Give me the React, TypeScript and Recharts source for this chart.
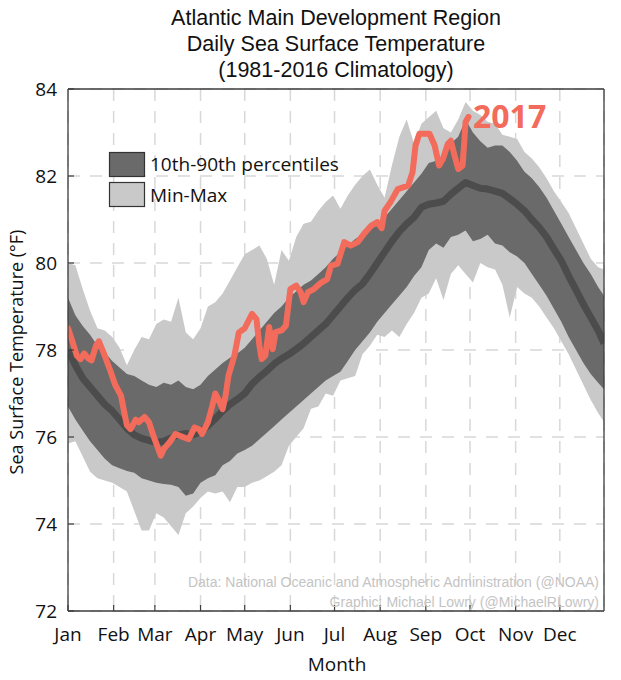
import React from 'react';
import { ComposedChart, Area, Line, XAxis, YAxis, CartesianGrid } from 'recharts';

// Day of year (1-based) for climatology samples
const climDays = [
  1, 6, 11, 16, 21, 26, 31, 36, 41, 46, 51, 56, 61, 66, 71, 76, 81, 86, 91, 96,
  101, 106, 111, 116, 121, 126, 131, 136, 141, 146, 151, 156, 161, 166, 171, 176, 181, 186, 191, 196,
  201, 206, 211, 216, 221, 226, 231, 236, 241, 246, 251, 256, 261, 266, 271, 276, 281, 286, 291, 296,
  301, 306, 311, 316, 321, 326, 331, 336, 341, 346, 351, 356, 361, 365,
];
const climMean = [
  78.0, 77.65, 77.35, 77.15, 76.95, 76.75, 76.6, 76.4, 76.2, 76.05, 75.97, 75.92, 75.88, 75.9, 75.98, 76.05, 76.08, 76.05, 76.12, 76.26,
  76.42, 76.6, 76.75, 76.87, 77.0, 77.22, 77.38, 77.52, 77.68, 77.8, 77.9, 78.02, 78.15, 78.3, 78.45, 78.6, 78.8, 79.0, 79.2, 79.38,
  79.52, 79.75, 80.0, 80.25, 80.5, 80.72, 80.9, 81.05, 81.28, 81.35, 81.38, 81.42, 81.58, 81.72, 81.85, 81.78, 81.72, 81.7, 81.65, 81.6,
  81.48, 81.35, 81.2, 81.0, 80.82, 80.6, 80.32, 80.05, 79.7, 79.38, 79.05, 78.75, 78.45, 78.15,
];
const climP90 = [
  79.2, 78.8, 78.55, 78.35, 78.1, 77.95, 77.75, 77.6, 77.45, 77.4, 77.3, 77.2, 77.15, 77.25, 77.2, 77.3, 77.15, 77.1, 77.2, 77.4,
  77.55, 77.7, 77.82, 77.92, 78.05, 78.25, 78.45, 78.65, 78.85, 79.0, 79.2, 79.35, 79.5, 79.6, 79.75, 79.9, 80.1, 80.25, 80.4, 80.55,
  80.65, 80.8, 80.9, 81.05, 81.25, 81.45, 81.65, 81.85, 82.05, 82.3, 82.35, 82.4, 82.75, 82.9, 83.3, 83.0, 82.8, 82.65, 82.7, 82.7,
  82.55, 82.35, 82.1, 81.95, 81.75, 81.5, 81.2, 80.9, 80.6, 80.3, 80.0, 79.75, 79.45, 79.25,
];
const climP10 = [
  76.7, 76.4, 76.15, 75.9, 75.7, 75.5, 75.35, 75.28, 75.22, 75.18, 75.05, 75.0, 74.95, 74.92, 74.9, 74.85, 74.65, 74.7, 74.95, 75.05,
  75.12, 75.35, 75.45, 75.62, 75.7, 75.8, 75.95, 76.1, 76.25, 76.4, 76.55, 76.7, 76.85, 77.0, 77.15, 77.3, 77.4, 77.5, 77.75, 78.0,
  78.2, 78.4, 78.65, 78.85, 79.05, 79.25, 79.45, 79.7, 79.9, 80.3, 80.45, 80.35, 80.6, 80.65, 80.75, 80.5, 80.55, 80.65, 80.45, 80.4,
  80.25, 80.15, 80.0, 79.75, 79.5, 79.25, 78.95, 78.65, 78.3, 78.0, 77.7, 77.45, 77.25, 77.1,
];
const climMin = [
  75.85, 75.9, 75.55, 75.2, 75.05, 75.0, 74.95, 74.85, 74.75, 74.3, 73.85, 73.85, 74.25, 74.15, 73.95, 73.75, 74.25, 74.4, 74.6, 74.75,
  74.7, 74.75, 74.5, 74.85, 74.85, 74.95, 75.0, 75.1, 75.2, 75.35, 75.8, 76.0, 76.2, 76.65, 76.7, 77.0, 76.95, 77.3, 77.35, 77.4,
  77.9, 78.1, 78.35, 78.3, 78.45, 78.3, 78.6, 78.85, 79.2, 79.3, 79.65, 79.15, 79.75, 79.95, 79.75, 79.55, 80.0, 79.9, 79.85, 79.5,
  78.75, 79.45, 79.3, 79.2, 79.0, 78.75, 78.5, 78.2, 77.9, 77.55, 77.2, 76.85, 76.55, 76.35,
];
const climMax = [
  80.0, 79.95, 79.4, 78.9, 78.5, 78.45, 78.3, 78.05, 77.65, 78.0, 78.3, 78.25, 78.6, 78.7, 78.65, 79.2, 78.4, 78.25, 78.5, 79.0,
  79.1, 79.3, 79.6, 79.9, 80.2, 80.3, 80.4, 80.1, 79.5, 80.3, 80.05, 80.6, 80.9, 80.95, 81.2, 81.4, 81.55, 81.25, 81.55, 81.8,
  82.0, 82.15, 81.8, 81.5, 82.25, 82.9, 83.3, 82.75, 83.2, 83.35, 83.5, 83.1, 83.0, 83.3, 83.7, 83.5, 83.4, 83.25, 83.2, 82.95,
  82.9, 82.85, 82.55, 82.4, 82.2, 81.95, 81.65, 81.4, 81.15, 80.8, 80.45, 80.1, 79.9, 79.85,
];

// 2017 daily SST (sampled where the line changes)
const days2017 = [
  1, 3, 7, 9.5, 12, 15, 17, 20, 22, 25, 30, 33, 37, 39, 41, 43.5, 47, 49, 53, 56,
  59, 64, 66, 70, 74, 79, 83, 87, 90, 92, 96, 99, 101, 103, 106, 108, 110, 114, 117, 121,
  124, 126, 129, 131, 132.5, 135, 137.6, 140, 142, 146, 149, 152, 156, 159, 161, 164, 168, 173, 177, 179.6,
  184, 188.6, 193, 197.7, 202, 207, 211, 214, 216, 220, 225, 232, 235, 237, 239.6, 243, 246.5, 250, 253, 255.6,
  259, 261, 263.5, 266, 269, 271, 273,
];
const sst2017 = [
  78.5, 78.3, 77.87, 77.79, 77.92, 77.8, 77.76, 78.1, 78.2, 77.95, 77.5, 77.2, 76.95, 76.6, 76.27, 76.18, 76.4, 76.34, 76.46, 76.34,
  76.03, 75.57, 75.72, 75.88, 76.07, 76.0, 75.95, 76.22, 76.18, 76.07, 76.34, 76.72, 77.0, 76.87, 76.64, 76.95, 77.41, 77.87, 78.4, 78.5,
  78.7, 78.83, 78.71, 78.1, 77.79, 77.87, 78.53, 78.02, 78.41, 78.45, 78.56, 79.4, 79.48, 79.33, 79.1, 79.33, 79.4, 79.55, 79.63, 79.94,
  79.98, 80.48, 80.4, 80.48, 80.67, 80.86, 80.94, 80.8, 81.2, 81.4, 81.7, 81.78, 82.09, 82.7, 82.97, 82.97, 82.97, 82.7, 82.24, 82.39,
  82.74, 82.81, 82.47, 82.16, 82.24, 83.24, 83.36,
];

const monthTicks = [1, 32, 60, 91, 121, 152, 182, 213, 244, 274, 305, 335];
const monthLabels = ['Jan', 'Feb', 'Mar', 'Apr', 'May', 'Jun', 'Jul', 'Aug', 'Sep', 'Oct', 'Nov', 'Dec'];
const tempTicks = [72, 74, 76, 78, 80, 82, 84];

const titleLines = ['Atlantic Main Development Region', 'Daily Sea Surface Temperature', '(1981-2016 Climatology)'];
const legendItems = ['10th-90th percentiles', 'Min-Max'];
const creditLines = [
  'Data: National Oceanic and Atmospheric Administration (@NOAA)',
  'Graphic: Michael Lowry (@MichaelRLowry)',
];

const climData = climDays.map((day, i) => ({
  day,
  mean: climMean[i],
  band: [climP10[i], climP90[i]],
  range: [climMin[i], climMax[i]],
}));
const data2017 = days2017.map((day, i) => ({ day, sst: sst2017[i] }));

const FRAME = '#3c3c3c';
const LIGHT = '#c9c9c9';
const DARK = '#6a6a6a';
const MEAN = '#4c4c4c';
const RED = '#f26b5b';
const SANS = "'Open Sans', 'Noto Sans', sans-serif";
const HELV = "'Liberation Sans', Arial, sans-serif";

export default function App() {
  return (
    <div style={{ position: 'absolute', left: 0, top: 0, width: 621, height: 680, background: '#fff' }}>
      <ComposedChart
        width={621}
        height={680}
        data={climData}
        margin={{ top: 88, right: 16, bottom: 39, left: 0 }}
      >
        <CartesianGrid stroke="#d8d8d8" strokeWidth={1.5} strokeDasharray="12 10" />
        <XAxis
          dataKey="day"
          type="number"
          domain={[1, 365]}
          ticks={monthTicks}
          interval={0}
          tickFormatter={(v: number) => monthLabels[monthTicks.indexOf(v)] ?? ''}
          tick={{ fill: '#111', fontSize: 19, fontFamily: SANS }}
          tickSize={-6}
          tickMargin={23}
          height={30}
          axisLine={{ stroke: FRAME, strokeWidth: 1.3 }}
          tickLine={{ stroke: FRAME, strokeWidth: 1.2 }}
          allowDataOverflow
        />
        <XAxis
          xAxisId="top"
          orientation="top"
          type="number"
          dataKey="day"
          domain={[1, 365]}
          ticks={monthTicks}
          interval={0}
          tick={false}
          tickSize={-6}
          height={1}
          axisLine={{ stroke: FRAME, strokeWidth: 1.3 }}
          tickLine={{ stroke: FRAME, strokeWidth: 1.2 }}
          allowDataOverflow
        />
        <YAxis
          type="number"
          domain={[72, 84]}
          ticks={tempTicks}
          interval={0}
          width={68}
          tick={{ fill: '#111', fontSize: 19, fontFamily: SANS }}
          tickSize={-6}
          tickMargin={17}
          axisLine={{ stroke: FRAME, strokeWidth: 1.3 }}
          tickLine={{ stroke: FRAME, strokeWidth: 1.2 }}
          allowDataOverflow
        />
        <YAxis
          yAxisId="right"
          orientation="right"
          type="number"
          domain={[72, 84]}
          ticks={tempTicks}
          interval={0}
          width={1}
          tick={false}
          tickSize={-6}
          axisLine={{ stroke: FRAME, strokeWidth: 1.3 }}
          tickLine={{ stroke: FRAME, strokeWidth: 1.2 }}
          allowDataOverflow
        />
        <Area
          dataKey="range"
          type="linear"
          fill={LIGHT}
          fillOpacity={1}
          stroke="none"
          isAnimationActive={false}
        />
        <Area
          dataKey="band"
          type="linear"
          fill={DARK}
          fillOpacity={1}
          stroke="none"
          isAnimationActive={false}
        />
        <Line
          dataKey="mean"
          type="linear"
          stroke={MEAN}
          strokeWidth={7}
          dot={false}
          activeDot={false}
          strokeLinejoin="round"
          isAnimationActive={false}
        />
        <Line
          data={data2017}
          dataKey="sst"
          type="linear"
          stroke={RED}
          strokeWidth={6}
          dot={false}
          activeDot={false}
          strokeLinejoin="round"
          strokeLinecap="round"
          isAnimationActive={false}
        />
      </ComposedChart>
      <svg
        width={621}
        height={680}
        style={{ position: 'absolute', left: 0, top: 0, pointerEvents: 'none' }}
      >
        {titleLines.map((t, i) => (
          <text
            key={t}
            x={336}
            y={25 + i * 26}
            textAnchor="middle"
            fontFamily={HELV}
            fontSize={21.5}
            fill="#111"
          >
            {t}
          </text>
        ))}
        <rect x={109.5} y={152.5} width={35} height={24} fill={DARK} stroke="#333" strokeWidth={1.2} />
        <rect x={109.5} y={182.5} width={35} height={24} fill={LIGHT} stroke="#333" strokeWidth={1.2} />
        {legendItems.map((t, i) => (
          <text key={t} x={150} y={171 + i * 31} fontFamily={SANS} fontSize={19} fill="#111">
            {t}
          </text>
        ))}
        <text x={473} y={128} fontFamily={SANS} fontWeight={700} fontSize={32} fill={RED}>
          2017
        </text>
        {creditLines.map((t, i) => (
          <text
            key={t}
            x={599}
            y={587 + i * 20}
            textAnchor="end"
            fontFamily={HELV}
            fontSize={14}
            fill="#c4c4c4"
          >
            {t}
          </text>
        ))}
        <text
          x={0}
          y={0}
          transform="translate(23 352) rotate(-90)"
          textAnchor="middle"
          fontFamily={SANS}
          fontSize={18}
          fill="#111"
        >
          Sea Surface Temperature (°F)
        </text>
        <text x={337} y={671} textAnchor="middle" fontFamily={SANS} fontSize={19} fill="#111">
          Month
        </text>
      </svg>
    </div>
  );
}
